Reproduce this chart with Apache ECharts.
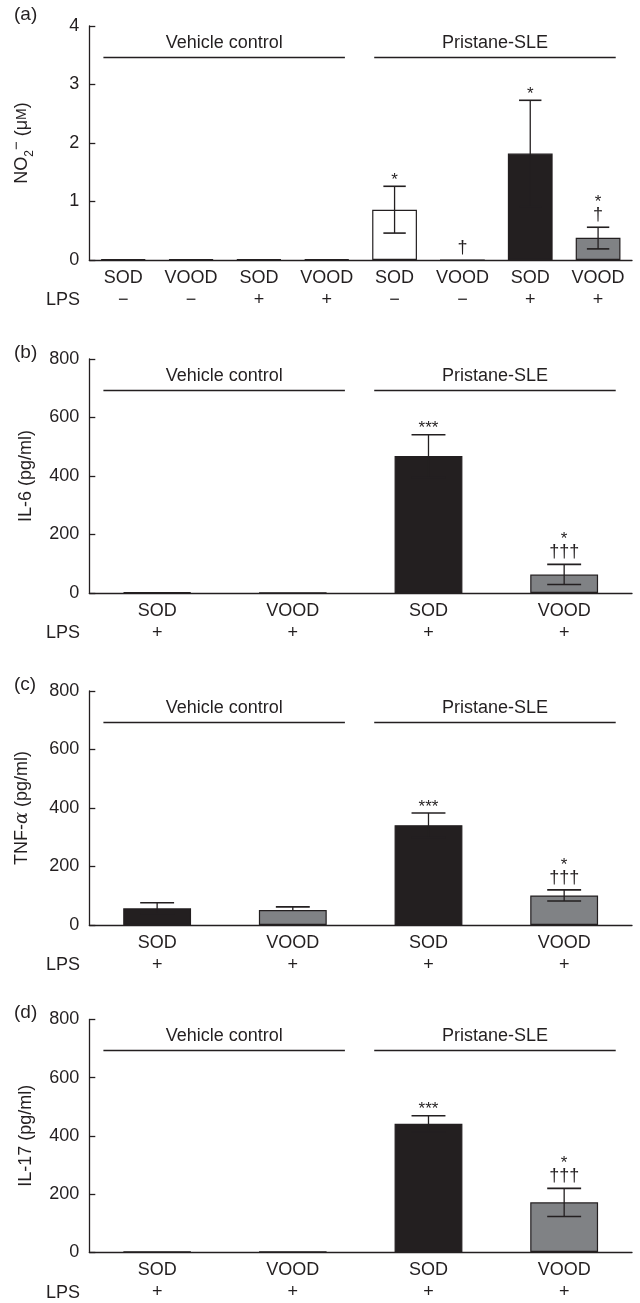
<!DOCTYPE html>
<html>
<head>
<meta charset="utf-8">
<style>
  html, body { margin: 0; padding: 0; background: #fff; }
  #chart { width: 640px; height: 1303px; }
</style>
<script src="https://cdn.jsdelivr.net/npm/echarts@6/dist/echarts.min.js"></script>
</head>
<body>
<div id="chart"></div>
<script>
// panel (a) : NO2-
const catsA = ["SOD", "VOOD", "SOD", "VOOD", "SOD", "VOOD", "SOD", "VOOD"];
const lpsA = ["\u2212", "\u2212", "+", "+", "\u2212", "\u2212", "+", "+"];
const no2Mean = [0.01, 0.01, 0.01, 0.01, 0.86, 0, 1.82, 0.38];
const no2Hi = [null, null, null, null, 1.26, null, 2.73, 0.56];
const no2Lo = [null, null, null, null, 0.46, null, 0.91, 0.19];
const no2Stars = ["", "", "", "", "*", "", "*", "*"];
const no2Dag = ["", "", "", "", "", "\u2020", "", "\u2020"];

// panels (b)-(d)
const catsB = ["SOD", "VOOD", "SOD", "VOOD"];
const lpsB = ["+", "+", "+", "+"];
const il6Mean = [2, 1, 468, 63];
const il6Hi = [null, null, 541, 98];
const il6Lo = [null, null, 395, 29];
const tnfMean = [57, 51, 341, 101];
const tnfHi = [76, 62, 383, 120];
const tnfLo = [38, null, 299, 82];
const il17Mean = [1, 1, 441, 171];
const il17Hi = [null, null, 469, 219];
const il17Lo = [null, null, 413, 122];
const starsB = ["", "", "***", "*"];
const dagB = ["", "", "", "\u2020\u2020\u2020"];

const groupNames = ["Vehicle control", "Pristane-SLE"];

const INK = "#231f20";
const GRAY = "#808285";
const FONT = "'Liberation Sans', Arial, sans-serif";

const fillA = ["#ffffff", "#ffffff", INK, GRAY, "#ffffff", "#ffffff", INK, GRAY];
const fillB = [INK, GRAY, INK, GRAY];

const panels = [
  { letter: "(a)", cats: catsA, lps: lpsA, mean: no2Mean, hi: no2Hi, lo: no2Lo,
    stars: no2Stars, dag: no2Dag, fill: fillA, max: 4, step: 1, frac: 0.66,
    name: "{a|NO}{b|2}{c|\u2212}{a| (\u03bc}{d|M}{a|)}" },
  { letter: "(b)", cats: catsB, lps: lpsB, mean: il6Mean, hi: il6Hi, lo: il6Lo,
    stars: starsB, dag: dagB, fill: fillB, max: 800, step: 200, frac: 0.5,
    name: "IL-6 (pg/ml)" },
  { letter: "(c)", cats: catsB, lps: lpsB, mean: tnfMean, hi: tnfHi, lo: tnfLo,
    stars: starsB, dag: dagB, fill: fillB, max: 800, step: 200, frac: 0.5,
    name: "{a|TNF-}{i|\u03b1}{a| (pg/ml)}" },
  { letter: "(d)", cats: catsB, lps: lpsB, mean: il17Mean, hi: il17Hi, lo: il17Lo,
    stars: starsB, dag: dagB, fill: fillB, max: 800, step: 200, frac: 0.5,
    name: "IL-17 (pg/ml)" }
];

const tops = [26, 359, 691, 1019.5];
const gridH = 234;

function errRender(p) {
  return function (params, api) {
    const i = params.dataIndex;
    const bw = api.size([1, 0])[0] * p.frac;
    const half = bw / 4;
    const x = api.coord([i, 0])[0];
    const kids = [];
    let top = api.coord([i, p.mean[i]])[1];
    if (p.hi[i] != null) {
      const yh = api.coord([i, p.hi[i]])[1];
      const yl = api.coord([i, p.lo[i] != null ? p.lo[i] : p.mean[i]])[1];
      kids.push({ type: "line", shape: { x1: x, y1: yl, x2: x, y2: yh },
        style: { stroke: INK, lineWidth: 1.3 } });
      kids.push({ type: "line", shape: { x1: x - half, y1: yh, x2: x + half, y2: yh },
        style: { stroke: INK, lineWidth: 1.6 } });
      if (p.lo[i] != null) {
        kids.push({ type: "line", shape: { x1: x - half, y1: yl, x2: x + half, y2: yl },
          style: { stroke: INK, lineWidth: 1.6 } });
      }
      top = yh;
    }
    let starY = top - 10;
    if (p.dag[i]) {
      const dy = top - 12;
      kids.push({ type: "text", style: { text: p.dag[i], x: x, y: dy, align: "center",
        verticalAlign: "middle", fontSize: 18, fontFamily: FONT, fill: INK } });
      starY = dy - 17;
    }
    if (p.stars[i]) {
      kids.push({ type: "text", style: { text: p.stars[i], x: x, y: starY + 4, align: "center",
        verticalAlign: "middle", fontSize: 17, fontFamily: FONT, fill: INK } });
    }
    return { type: "group", children: kids };
  };
}

const grid = [], xAxis = [], yAxis = [], series = [], graphic = [];

panels.forEach(function (p, k) {
  grid.push({ left: 89.3, right: 8, top: tops[k], height: gridH });
  xAxis.push({
    type: "category", gridIndex: k, data: p.cats,
    axisLine: { lineStyle: { color: INK, width: 1.3 } },
    axisTick: { inside: true, length: 6, interval: 0, lineStyle: { color: INK, width: 1.3 } },
    axisLabel: {
      interval: 0, margin: 7, color: INK, fontSize: 18, fontFamily: FONT, lineHeight: 22,
      formatter: function (v, idx) { return v + "\n" + p.lps[idx]; }
    }
  });
  yAxis.push({
    type: "value", gridIndex: k, min: 0, max: p.max, interval: p.step,
    splitLine: { show: false },
    axisLine: { show: true, lineStyle: { color: INK, width: 1.3 } },
    axisTick: { show: true, inside: true, length: 6, lineStyle: { color: INK, width: 1.3 } },
    axisLabel: { color: INK, fontSize: 18, fontFamily: FONT, margin: 10 },
    name: p.name, nameLocation: "middle", nameGap: 54, nameRotate: 90,
    nameTextStyle: {
      color: INK, fontSize: 18, fontFamily: FONT,
      rich: {
        a: { fontSize: 18, fontFamily: FONT, color: INK, lineHeight: 26 },
        b: { fontSize: 12, fontFamily: FONT, color: INK, lineHeight: 12, verticalAlign: "bottom" },
        c: { fontSize: 15, fontFamily: FONT, color: INK, lineHeight: 14, verticalAlign: "top" },
        d: { fontSize: 14, fontFamily: FONT, color: INK },
        i: { fontSize: 18, fontFamily: "'DejaVu Serif', serif", fontStyle: "italic", color: INK }
      }
    }
  });
  series.push({
    type: "bar", xAxisIndex: k, yAxisIndex: k, silent: true,
    barCategoryGap: Math.round((1 - p.frac) * 100) + "%",
    data: p.mean.map(function (v, i) {
      return { value: v, itemStyle: { color: p.fill[i], borderColor: INK, borderWidth: 1.2 } };
    })
  });
  series.push({
    type: "custom", xAxisIndex: k, yAxisIndex: k, silent: true, z: 5,
    renderItem: errRender(p),
    data: p.mean.map(function (v, i) { return [i, v]; })
  });
  graphic.push({ type: "text", left: 14, top: tops[k] - (k === 0 ? 21 : 16),
    style: { text: p.letter, fontSize: 19, fontFamily: FONT, fill: INK } });
  graphic.push({ type: "text", x: 80, y: tops[k] + gridH + 40,
    style: { text: "LPS", align: "right", verticalAlign: "middle", fontSize: 18, fontFamily: FONT, fill: INK } });
});

// hidden 0..1 axes for the group brackets
panels.forEach(function (p, k) {
  const xi = xAxis.length;
  xAxis.push({ type: "value", gridIndex: k, min: 0, max: 1, show: false });
  const yLine = p.max * 0.867;
  series.push({
    type: "line", xAxisIndex: xi, yAxisIndex: k, data: [], silent: true,
    markLine: {
      silent: true, symbol: ["none", "none"],
      lineStyle: { color: INK, width: 1.3, type: "solid" },
      label: { show: true, position: "middle", distance: 5, color: INK, fontSize: 18, fontFamily: FONT,
        formatter: function (d) { return d.name; } },
      data: [
        [{ name: groupNames[0], coord: [0.026, yLine] }, { coord: [0.471, yLine] }],
        [{ name: groupNames[1], coord: [0.525, yLine] }, { coord: [0.970, yLine] }]
      ]
    }
  });
});

const chart = echarts.init(document.getElementById("chart"));
chart.setOption({
  animation: false,
  backgroundColor: "#ffffff",
  grid: grid,
  xAxis: xAxis,
  yAxis: yAxis,
  series: series,
  graphic: graphic
});
</script>
</body>
</html>
